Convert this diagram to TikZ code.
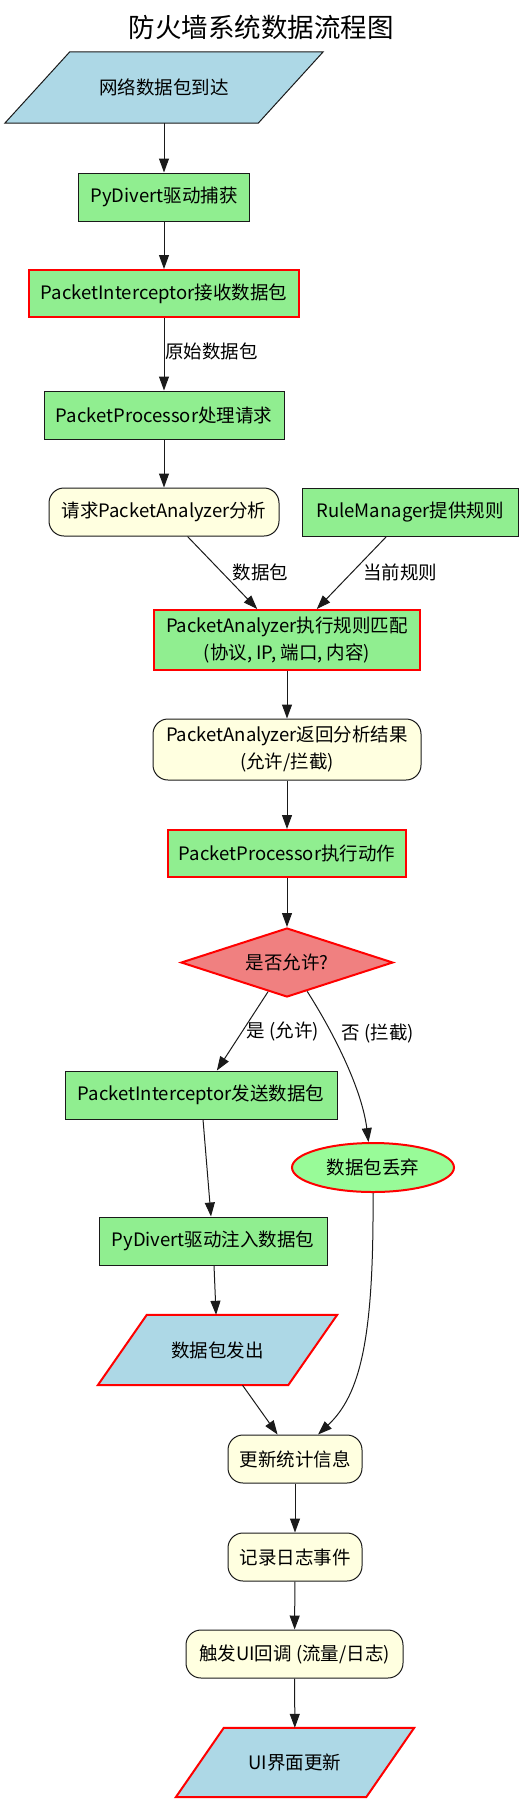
\documentclass[tikz,border=0pt]{standalone}
\usepackage{fontspec}
\setmainfont{Noto Sans CJK SC}
\usetikzlibrary{shapes.geometric,arrows.meta,backgrounds,calc}
\definecolor{lblue}{HTML}{ADD8E6}
\definecolor{lgreen}{HTML}{90EE90}
\definecolor{lyellow}{HTML}{FFFFE0}
\definecolor{lcoral}{HTML}{F08080}
\definecolor{pgreen}{HTML}{98FB98}
\definecolor{edgeblk}{HTML}{1A1A1A}
\begin{document}
\begin{tikzpicture}[x=1pt,y=-1pt,
  base/.style={font=\fontsize{18.5}{27}\selectfont, inner sep=0pt, align=center},
  box/.style={base, rectangle, draw=edgeblk, line width=1pt, fill=lgreen},
  hot/.style={draw=red, line width=2pt},
  rbox/.style={base, rectangle, rounded corners=15pt, draw=edgeblk, line width=1pt, fill=lyellow},
  ptext/.style={base, rectangle},
  pshape/.style={draw=edgeblk, line width=1pt, fill=lblue},
  phot/.style={draw=red, line width=2pt, fill=lblue},
  lbl/.style={font=\fontsize{18.5}{22}\selectfont, inner sep=0pt, anchor=west},
  arr/.style={-{Triangle[length=14pt,width=10pt]}, line width=1pt, draw=edgeblk}
]
\useasboundingbox (0,0) rectangle (527,1804);

\node[font=\fontsize{26.5}{30}\selectfont, inner sep=0pt] (title) at (261,27) {防火墙系统数据流程图};

% nodes
\node[ptext, minimum width=318pt, minimum height=71pt] (in1) at (164,87.5) {网络数据包到达};
\node[box, minimum width=171pt, minimum height=48pt] (pyd) at (164,197) {PyDivert驱动捕获};
\node[box, hot, minimum width=270pt, minimum height=47pt] (pi) at (164,293.5) {PacketInterceptor接收数据包};
\node[box, minimum width=240pt, minimum height=48pt] (pp) at (164,415) {PacketProcessor处理请求};
\node[rbox, minimum width=230pt, minimum height=48pt] (req) at (164,512) {请求PacketAnalyzer分析};
\node[box, minimum width=216pt, minimum height=48pt] (rm) at (410,512) {RuleManager提供规则};
\node[box, hot, minimum width=266pt, minimum height=60pt] (pam) at (287,640) {PacketAnalyzer执行规则匹配\\(协议, IP, 端口, 内容)};
\node[rbox, minimum width=268pt, minimum height=61pt] (par) at (287,749.5) {PacketAnalyzer返回分析结果\\(允许/拦截)};
\node[box, hot, minimum width=238pt, minimum height=47pt] (pe) at (287,853.5) {PacketProcessor执行动作};
\node[base, diamond, aspect=3, draw=red, line width=2pt, fill=lcoral, minimum width=212pt, minimum height=69pt] (dec) at (287,962.5) {是否允许?};
\node[box, minimum width=272pt, minimum height=48pt] (send) at (201,1095) {PacketInterceptor发送数据包};
\node[base, ellipse, draw=red, line width=2pt, fill=pgreen, minimum width=162pt, minimum height=49pt] (drop) at (373,1167.5) {数据包丢弃};
\node[box, minimum width=228pt, minimum height=48pt] (inject) at (213,1241) {PyDivert驱动注入数据包};
\node[ptext, minimum width=239pt, minimum height=70pt] (out) at (217.5,1350) {数据包发出};
\node[rbox, minimum width=134pt, minimum height=48pt] (stats) at (295,1459) {更新统计信息};
\node[rbox, minimum width=134pt, minimum height=48pt] (log) at (295,1557) {记录日志事件};
\node[rbox, minimum width=217pt, minimum height=48pt] (ui) at (294.5,1654) {触发UI回调 (流量/日志)};
\node[ptext, minimum width=238pt, minimum height=69pt] (upd) at (295,1762.5) {UI界面更新};

% parallelogram outlines
\begin{scope}[on background layer]
\path[pshape] ([xshift=65pt]in1.north west) -- (in1.north east) -- ([xshift=-65pt]in1.south east) -- (in1.south west) -- cycle;
\path[phot] ([xshift=49pt]out.north west) -- (out.north east) -- ([xshift=-49pt]out.south east) -- (out.south west) -- cycle;
\path[phot] ([xshift=48pt]upd.north west) -- (upd.north east) -- ([xshift=-48pt]upd.south east) -- (upd.south west) -- cycle;
\end{scope}

% edges
\draw[arr] (in1) -- (pyd);
\draw[arr] (pyd) -- (pi);
\draw[arr] (pi) -- node[lbl, pos=0.46, xshift=0.5pt] {原始数据包} (pp);
\draw[arr] (pp) -- (req);
\draw[arr] (req) -- node[lbl, xshift=10pt] {数据包} (pam);
\draw[arr] (rm) -- node[lbl, xshift=11pt] {当前规则} (pam);
\draw[arr] (pam) -- (par);
\draw[arr] (par) -- (pe);
\draw[arr] (pe) -- (dec);
\draw[arr] (dec) -- node[lbl, xshift=4pt] {是 (允许)} (send);
\draw[arr] (dec.-55) .. controls (335,1035) and (362,1090) .. node[lbl, pos=0.3, xshift=10pt] {否 (拦截)} (drop.100);
\draw[arr] (send) -- (inject);
\draw[arr] (inject) -- (out);
\draw[arr] (out) -- (stats);
\draw[arr] (drop.south) .. controls (374,1340) and (360,1395) .. ([xshift=23pt]stats.north);
\draw[arr] (stats) -- (log);
\draw[arr] (log) -- (ui);
\draw[arr] (ui) -- (upd);
\end{tikzpicture}
\end{document}
